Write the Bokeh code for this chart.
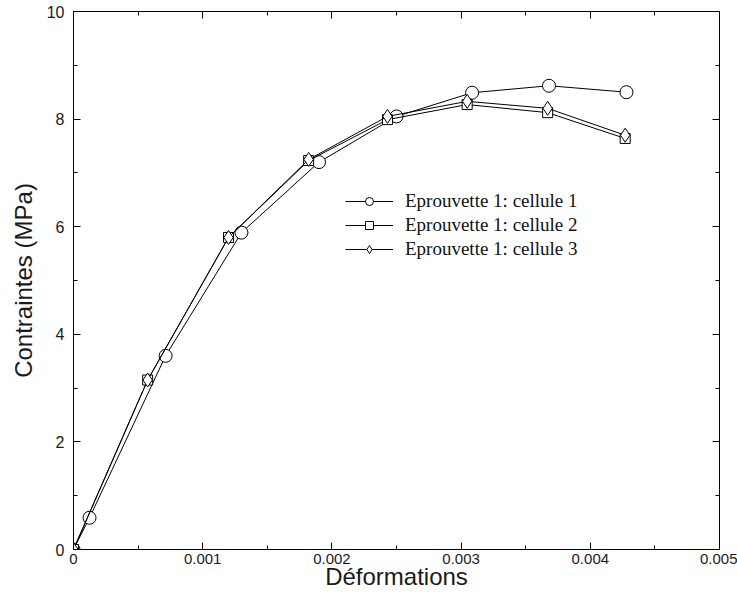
from bokeh.plotting import figure
from bokeh.models import (ColumnDataSource, FixedTicker, LinearAxis, Legend, LegendItem, Range1d)
from bokeh.embed import file_html
from bokeh.resources import INLINE

# Data
x1 = [0.0, 0.000124, 0.000713, 0.0013, 0.0019, 0.0025, 0.003085, 0.00368, 0.00428]
y1 = [0.0, 0.59, 3.60, 5.89, 7.20, 8.05, 8.49, 8.62, 8.50]
x2 = [0.0, 0.000574, 0.0012, 0.00182, 0.00243, 0.003047, 0.00367, 0.00427]
y2 = [0.0, 3.15, 5.80, 7.23, 7.99, 8.27, 8.12, 7.64]
x3 = [0.0, 0.000574, 0.0012, 0.00182, 0.00243, 0.003047, 0.00367, 0.00427]
y3 = [0.0, 3.15, 5.80, 7.25, 8.05, 8.33, 8.20, 7.70]
labels = ["Eprouvette 1: cellule 1", "Eprouvette 1: cellule 2", "Eprouvette 1: cellule 3"]
x_ticks = [0, 0.001, 0.002, 0.003, 0.004, 0.005]
x_tick_labels = ["0", "0.001", "0.002", "0.003", "0.004", "0.005"]
x_minor = [0.0005, 0.0015, 0.0025, 0.0035, 0.0045]
y_ticks = [0, 2, 4, 6, 8, 10]
y_minor = [1, 3, 5, 7, 9]

W, H = 737, 592
p = figure(width=W, height=H, output_backend="svg", toolbar_location=None,
           x_range=Range1d(0, 0.005), y_range=Range1d(0, 10),
           min_border_left=73, min_border_right=18, min_border_top=11, min_border_bottom=42,
           x_axis_location=None, y_axis_location=None)
p.grid.visible = False
p.outline_line_color = "black"
p.outline_line_width = 1
p.background_fill_color = "white"
p.border_fill_color = "white"

def style_axis(ax, show_labels, tick_font="15px"):
    ax.axis_line_color = "black"
    ax.axis_line_width = 1
    ax.major_tick_in = 7
    ax.major_tick_out = 0
    ax.minor_tick_in = 4
    ax.minor_tick_out = 0
    ax.major_tick_line_color = "black"
    ax.minor_tick_line_color = "black"
    ax.major_label_text_font = "Liberation Sans"
    ax.major_label_text_font_size = tick_font
    ax.major_label_text_color = "#1a1a1a"
    ax.axis_label_text_font = "Liberation Sans"
    ax.axis_label_text_font_size = "24px"
    ax.axis_label_text_font_style = "normal"
    ax.axis_label_text_color = "#1a1a1a"
    if not show_labels:
        ax.major_label_text_alpha = 0
        ax.major_label_text_font_size = "0px"

xb = LinearAxis(ticker=FixedTicker(ticks=x_ticks, minor_ticks=x_minor), axis_label="Déformations")
xb.major_label_overrides = {t: l for t, l in zip(x_ticks, x_tick_labels)}
style_axis(xb, True, "15px")
xb.major_label_standoff = 4
xb.axis_label_standoff = -4
p.add_layout(xb, "below")

yl = LinearAxis(ticker=FixedTicker(ticks=y_ticks, minor_ticks=y_minor), axis_label="Contraintes (MPa)")
style_axis(yl, True, "16px")
yl.major_label_standoff = 9
yl.axis_label_standoff = 7
p.add_layout(yl, "left")

xt = LinearAxis(ticker=FixedTicker(ticks=x_ticks, minor_ticks=x_minor))
style_axis(xt, False)
xt.major_label_standoff = 0
p.add_layout(xt, "above")

yr = LinearAxis(ticker=FixedTicker(ticks=y_ticks, minor_ticks=y_minor))
style_axis(yr, False)
yr.major_label_standoff = 0
p.add_layout(yr, "right")

s1 = ColumnDataSource(dict(x=x1, y=y1))
s2 = ColumnDataSource(dict(x=x2, y=y2))
s3 = ColumnDataSource(dict(x=x3, y=y3))

l1 = p.line("x", "y", source=s1, line_color="black", line_width=1)
m1 = p.scatter("x", "y", source=s1, marker="circle", size=13, fill_color="white",
               line_color="black", line_width=1)
l2 = p.line("x", "y", source=s2, line_color="black", line_width=1)
m2 = p.scatter("x", "y", source=s2, marker="square", size=10, fill_color="white",
               line_color="black", line_width=1)
l3 = p.line("x", "y", source=s3, line_color="black", line_width=1)
m3 = p.scatter("x", "y", source=s3, marker="diamond", size=14, fill_color="white",
               line_color="black", line_width=1)

legend = Legend(items=[LegendItem(label=labels[0], renderers=[l1, m1]),
                       LegendItem(label=labels[1], renderers=[l2, m2]),
                       LegendItem(label=labels[2], renderers=[l3, m3])],
                location=(272, 289))
legend.border_line_alpha = 0
legend.background_fill_alpha = 0
legend.padding = 0
legend.margin = 0
legend.spacing = 2
legend.glyph_width = 48
legend.glyph_height = 20
legend.label_height = 20
legend.label_standoff = 12
legend.label_text_font = "Liberation Serif"
legend.label_text_font_size = "19px"
legend.label_text_color = "#111111"
p.add_layout(legend, "center")

open("out.html", "w").write(file_html(p, INLINE))
